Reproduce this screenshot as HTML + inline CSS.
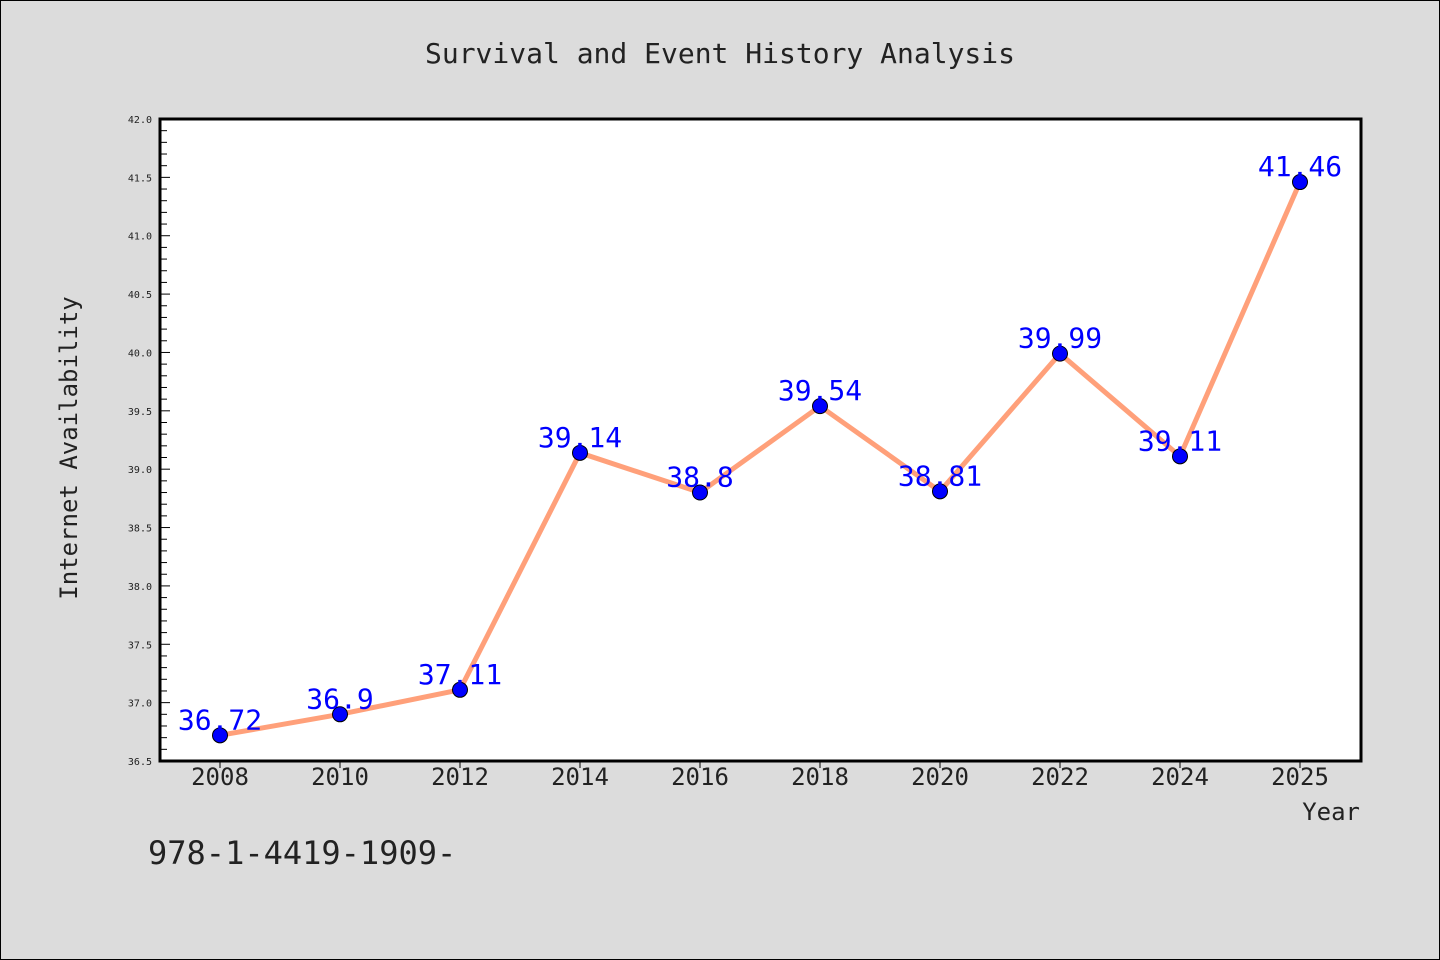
<!DOCTYPE html>
<html><head><meta charset="utf-8"><style>
body{margin:0;background:#dcdcdc}
svg{display:block}
text{font-family:"DejaVu Sans Mono","Liberation Mono",monospace}
</style></head><body>
<svg width="1440" height="960">
<rect x="0.5" y="0.5" width="1439" height="959" fill="#dcdcdc" stroke="#000"/>
<text x="720" y="63" text-anchor="middle" font-size="28" fill="#222">Survival and Event History Analysis</text>
<rect x="160" y="119" width="1201" height="642" fill="#fff"/>
<g id="yticks"></g><g id="xticks"></g>
<polyline id="line" fill="none" stroke="#ffa07a" stroke-width="5"/>
<g id="pts"></g><g id="lbls"></g>
<rect x="160" y="119" width="1201" height="642" fill="none" stroke="#000" stroke-width="3"/>
<text x="77" y="448" text-anchor="middle" font-size="24" fill="#222" transform="rotate(-90 77 448)">Internet Availability</text>
<text x="1360" y="820" text-anchor="end" font-size="24" fill="#222">Year</text>
<text x="148" y="864" font-size="32" fill="#222" font-family="Liberation Sans, sans-serif">978-1-4419-1909-</text>
</svg>
<script>
const categories=["2008","2010","2012","2014","2016","2018","2020","2022","2024","2025"];
const values=[36.72,36.9,37.11,39.14,38.8,39.54,38.81,39.99,39.11,41.46];
const labels=["36.72","36.9","37.11","39.14","38.8","39.54","38.81","39.99","39.11","41.46"];
const yTicks=[36.5,37.0,37.5,38.0,38.5,39.0,39.5,40.0,40.5,41.0,41.5,42.0];
const NS="http://www.w3.org/2000/svg";
const x0=160,x1=1360,yb=761,yt=119,ymin=36.5,ymax=42.0;
const xs=i=>x0+(x1-x0)/categories.length*(i+0.5);
const ys=v=>yb-(v-ymin)/(ymax-ymin)*(yb-yt);
function mk(t,a,p){const e=document.createElementNS(NS,t);for(const k in a)e.setAttribute(k,a[k]);p.appendChild(e);return e;}
const yg=document.getElementById('yticks');
for(let v=ymin;v<=ymax+1e-9;v+=0.1){
 const major=Math.abs(v*2-Math.round(v*2))<1e-6;
 const l=mk('line',{x1:160,x2:160+(major?10:7),y1:ys(v),y2:ys(v),stroke:'#000','stroke-width':1},yg);
 
 
}
yTicks.forEach(v=>{
 const t=mk('text',{x:152,y:ys(v)+4,'text-anchor':'end','font-size':10,fill:'#222'},yg);
 t.textContent=v.toFixed(1);
 
 
});
const xg=document.getElementById('xticks');
categories.forEach((c,i)=>{
 const l=mk('line',{x1:xs(i),x2:xs(i),y1:761,y2:768,stroke:'#000'},xg);
 
 
 const t=mk('text',{x:xs(i),y:785,'text-anchor':'middle','font-size':24,fill:'#222','font-family':'Liberation Sans, sans-serif'},xg);
 t.textContent=c;
 
 
});
document.getElementById('line').setAttribute('points',values.map((v,i)=>xs(i)+','+ys(v)).join(' '));
const pg=document.getElementById('pts'),lg=document.getElementById('lbls');
values.forEach((v,i)=>{
 const c=mk('circle',{cx:xs(i),cy:ys(v),r:7.5,fill:'#0000ff',stroke:'#000','stroke-width':1},pg);
 
 
 const t=mk('text',{x:xs(i),y:ys(v)-6,'text-anchor':'middle','font-size':28,fill:'#0000ff','font-family':'Liberation Sans, sans-serif'},lg);
 t.textContent=labels[i];
 
 
});
</script>
</body></html>
